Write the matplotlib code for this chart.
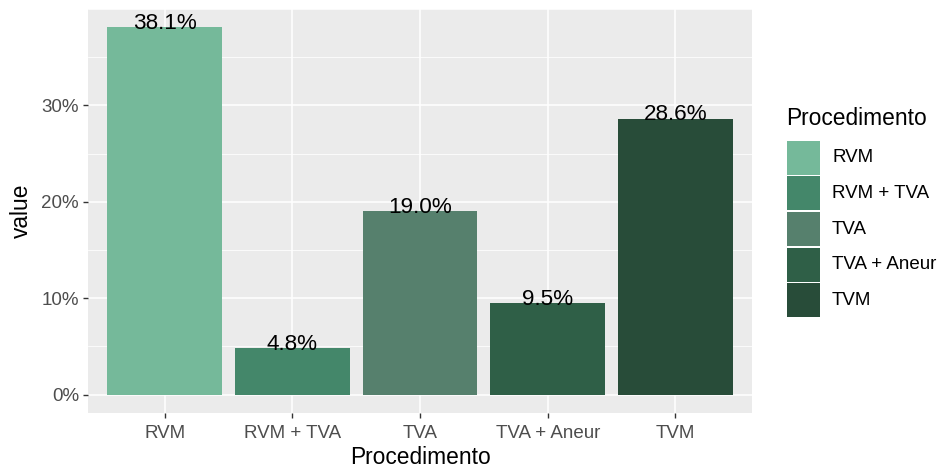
import matplotlib
matplotlib.use("Agg")
import matplotlib.pyplot as plt
from matplotlib.patches import Rectangle
from matplotlib.ticker import FuncFormatter, MultipleLocator

plt.rcParams["font.family"] = ["Liberation Sans", "DejaVu Sans"]

categories = ["RVM", "RVM + TVA", "TVA", "TVA + Aneur", "TVM"]
values = [38.1, 4.8, 19.0, 9.5, 28.6]
labels = ["38.1%", "4.8%", "19.0%", "9.5%", "28.6%"]
colors = ["#75b99a", "#44876a", "#56806d", "#2f5f47", "#284c39"]
yticks = [0, 10, 20, 30]

W, H = 943, 473
fig = plt.figure(figsize=(W / 100, H / 100), dpi=100)
fig.patch.set_facecolor("white")
ax = fig.add_axes([88 / W, (H - 413) / H, 664 / W, 404 / H])
ax.set_facecolor("#ebebeb")

x = list(range(1, len(categories) + 1))
ax.bar(x, values, width=0.9, color=colors, zorder=3)
for xi, v, lab in zip(x, values, labels):
    ax.text(xi, v - 0.15, lab, ha="center", va="baseline", fontsize=16.2, color="black", zorder=4)

ymax = max(values)
ax.set_xlim(0.4, len(categories) + 0.6)
ax.set_ylim(-0.05 * ymax, ymax * 1.05)
ax.set_xticks(x)
ax.set_xticklabels(categories)
ax.set_yticks(yticks)
ax.yaxis.set_major_formatter(FuncFormatter(lambda v, p: f"{int(v)}%"))
ax.yaxis.set_minor_locator(MultipleLocator(5))
ax.grid(True, which="major", color="white", linewidth=1.1, zorder=1)
ax.grid(True, which="minor", axis="y", color="white", linewidth=0.55, zorder=1)
ax.tick_params(axis="both", which="major", length=3.5, width=1, color="#333333",
               labelcolor="#4d4d4d", labelsize=13.5, pad=3)
ax.tick_params(axis="x", which="major", pad=5)
ax.tick_params(axis="y", which="minor", length=0)
for s in ax.spines.values():
    s.set_visible(False)
ax.set_xlabel("Procedimento", fontsize=16.4, labelpad=3)
ax.set_ylabel("value", fontsize=16.4, labelpad=6)

# legend
lax = fig.add_axes([0, 0, 1, 1], facecolor="none")
lax.set_xlim(0, W)
lax.set_ylim(H, 0)
lax.axis("off")
lax.text(786, 118, "Procedimento", fontsize=16.4, va="center", ha="left")
key_top, key_h = 140, 35.6
for i, (c, lab) in enumerate(zip(colors, categories)):
    y0 = key_top + i * key_h
    lax.add_patch(Rectangle((787, y0 + 0.8), 33, key_h - 1.6, facecolor=c, edgecolor="none"))
    lax.text(832, y0 + key_h / 2, lab, fontsize=13.5, va="center", ha="left", color="black")

fig.savefig("out.png", dpi=100)
